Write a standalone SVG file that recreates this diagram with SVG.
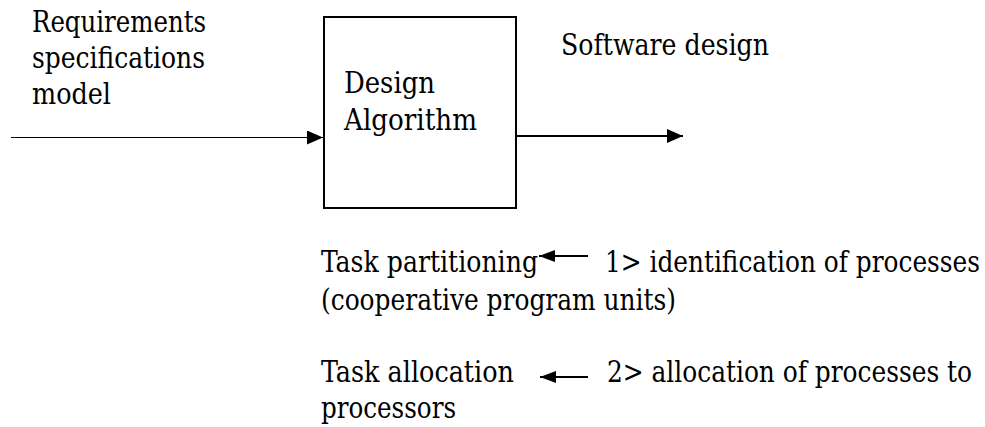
<svg xmlns="http://www.w3.org/2000/svg" width="985" height="427" viewBox="0 0 985 427">
  <style>
    text { font-family: "DejaVu Serif Condensed", "DejaVu Serif", "Liberation Serif", serif; font-stretch: condensed; font-size: 29px; fill: #000; }
    .box { fill: #fff; stroke: #000; stroke-width: 2; }
    .wire { stroke: #000; fill: none; }
  </style>
  <defs>
    <marker id="head" viewBox="0 0 16 14" refX="16" refY="7" markerWidth="16" markerHeight="14" markerUnits="userSpaceOnUse" orient="auto">
      <path d="M0,0 L16,7 L0,14 Z" fill="#000"/>
    </marker>
    <marker id="headSmall" viewBox="0 0 16 12" refX="16" refY="6" markerWidth="16" markerHeight="12" markerUnits="userSpaceOnUse" orient="auto">
      <path d="M0,0 L16,6 L0,12 Z" fill="#000"/>
    </marker>
  </defs>

  <rect width="985" height="427" fill="#fff"/>

  <!-- input label -->
  <g id="input-label">
    <text x="32" y="32" textLength="174" lengthAdjust="spacingAndGlyphs">Requirements</text>
    <text x="32" y="68" textLength="173" lengthAdjust="spacingAndGlyphs">specifications</text>
    <text x="32" y="104" textLength="79" lengthAdjust="spacingAndGlyphs">model</text>
  </g>

  <!-- central process box -->
  <g id="design-algorithm">
    <rect class="box" x="324" y="17" width="192" height="191"/>
    <text x="344" y="93" textLength="91" lengthAdjust="spacingAndGlyphs">Design</text>
    <text x="344" y="130" textLength="133" lengthAdjust="spacingAndGlyphs">Algorithm</text>
  </g>

  <!-- output label -->
  <g id="output-label">
    <text x="561" y="55" textLength="208" lengthAdjust="spacingAndGlyphs">Software design</text>
  </g>

  <!-- notes below the box -->
  <g id="task-partitioning">
    <text x="321" y="272" textLength="217" lengthAdjust="spacingAndGlyphs">Task partitioning</text>
    <text x="321" y="310" textLength="355" lengthAdjust="spacingAndGlyphs">(cooperative program units)</text>
  </g>
  <g id="step-1">
    <text x="605" y="272" textLength="375" lengthAdjust="spacingAndGlyphs">1&gt; identification of processes</text>
  </g>
  <g id="task-allocation">
    <text x="321" y="382" textLength="193" lengthAdjust="spacingAndGlyphs">Task allocation</text>
    <text x="321" y="418" textLength="135" lengthAdjust="spacingAndGlyphs">processors</text>
  </g>
  <g id="step-2">
    <text x="607" y="382" textLength="365" lengthAdjust="spacingAndGlyphs">2&gt; allocation of processes to</text>
  </g>

  <!-- connectors -->
  <g id="connectors">
    <line class="wire" x1="11" y1="137.5" x2="323" y2="137.5" stroke-width="1" marker-end="url(#head)"/>
    <line class="wire" x1="517" y1="136" x2="683" y2="136" stroke-width="2" marker-end="url(#head)"/>
    <line class="wire" x1="588" y1="256" x2="539" y2="256" stroke-width="2" marker-end="url(#headSmall)"/>
    <line class="wire" x1="588" y1="377" x2="540" y2="377" stroke-width="2" marker-end="url(#headSmall)"/>
  </g>
</svg>
